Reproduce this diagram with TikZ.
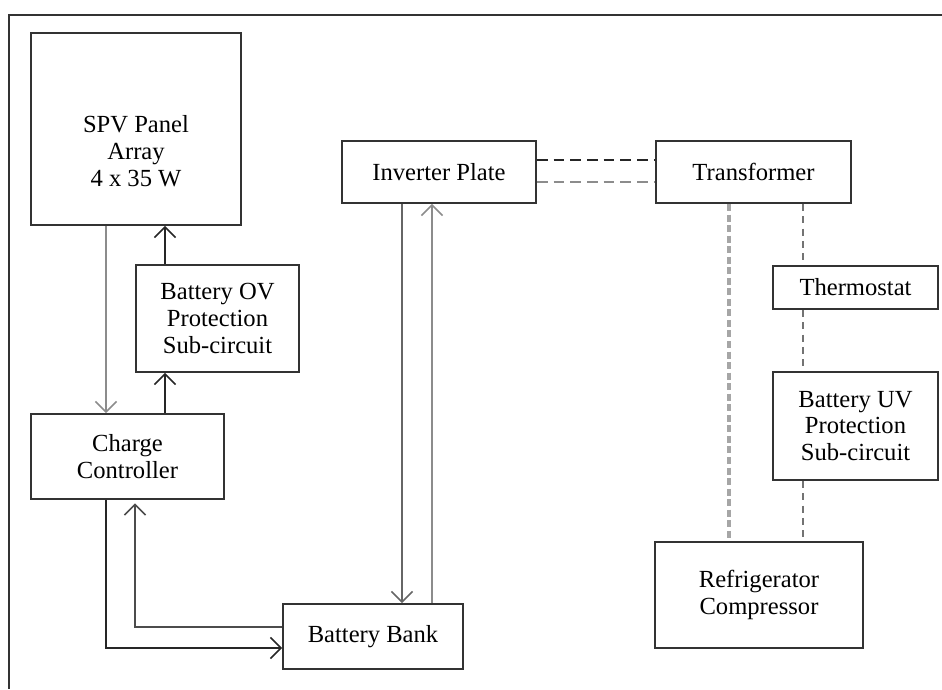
\documentclass[tikz,border=0pt]{standalone}
\usepackage{fontspec}
\setmainfont{Liberation Serif}
\usetikzlibrary{arrows.meta}

\tikzset{
  barb/.style={-{Straight Barb[length=6pt,width=12pt,line width=0.9pt]}}
}

\begin{document}
\begin{tikzpicture}[x=0.02cm, y=-0.02cm]
            \tikzstyle{block}=[draw=black!80,line width=1.1pt,align=center,inner sep=2pt,font=\fontsize{14}{15.3}\selectfont]
            \tikzstyle{wire}=[line width=0.9pt,black!85]
            \tikzstyle{greywire}=[line width=1pt,black!45]
            \tikzstyle{dotwire}=[line width=1pt,black!55,dash pattern=on 4pt off 3pt]
            \useasboundingbox (0,0) rectangle (942,689);
            % frame
            \draw[line width=1.1pt,black!80] (942,15) -- (9,15) -- (9,689);

            \node[block,minimum width=210*0.02cm,minimum height=192*0.02cm] (SPV) at (136,129) {};
            \node[align=center,font=\fontsize{14}{15.3}\selectfont] (SPV_t) at (136,151) {SPV Panel\\Array\\4 x 35 W};
            \node[block,minimum width=163*0.02cm,minimum height=107*0.02cm] (OV) at (217.5,318.5) {Battery OV\\Protection\\Sub-circuit};
            \node[block,minimum width=193*0.02cm,minimum height=85*0.02cm] (CC) at (127.5,456.5) {Charge\\Controller};
            \node[block,minimum width=180*0.02cm,minimum height=65*0.02cm] (BB) at (373,636.5) {Battery Bank};
            \node[block,minimum width=194*0.02cm,minimum height=62*0.02cm] (INV) at (439,172) {Inverter Plate};
            \node[block,minimum width=195*0.02cm,minimum height=62*0.02cm] (TR) at (753.5,172) {Transformer};
            \node[block,minimum width=165*0.02cm,minimum height=43*0.02cm] (TH) at (855.5,287.5) {Thermostat};
            \node[block,minimum width=165*0.02cm,minimum height=108*0.02cm] (UV) at (855.5,426) {Battery UV\\Protection\\Sub-circuit};
            \node[block,minimum width=208*0.02cm,minimum height=106*0.02cm] (RC) at (759,595) {Refrigerator\\Compressor};

            % columns of the connectors
            \coordinate (c_1) at (106,0);
            \coordinate (c_2) at (165,0);
            \coordinate (c_3) at (135,0);
            \coordinate (c_4) at (402,0);
            \coordinate (c_5) at (432,0);
            \coordinate (c_6) at (729,0);
            \coordinate (c_7) at (803,0);
            \coordinate (r_1) at (0,648);
            \coordinate (r_2) at (0,627);
            \coordinate (r_3) at (0,160);
            \coordinate (r_4) at (0,182);

            \draw[greywire,barb] (SPV.south -| c_1) -- (CC.north -| c_1);
            \draw[wire,barb] (CC.north -| c_2) -- (OV.south -| c_2);
            \draw[wire,barb] (OV.north -| c_2) -- (SPV.south -| c_2);
            \draw[wire,barb] (CC.south -| c_1) -- (c_1 |- r_1) -- (BB.west |- r_1);
            \draw[wire,black!70,barb] (BB.west |- r_2) -- (c_3 |- r_2) -- ([yshift=-2pt]CC.south -| c_3);
            \draw[greywire,black!60,barb] (INV.south -| c_4) -- (BB.north -| c_4);
            \draw[greywire,barb] (BB.north -| c_5) -- (INV.south -| c_5);

            \draw[wire,dash pattern=on 6pt off 3.5pt] (INV.east |- r_3) -- (TR.west |- r_3);
            \draw[greywire,dash pattern=on 6pt off 3.5pt] (INV.east |- r_4) -- (TR.west |- r_4);
            \draw[line width=2pt,black!35,dash pattern=on 4pt off 2pt] (TR.south -| c_6) -- (RC.north -| c_6);
            \draw[dotwire] (TR.south -| c_7) -- (TH.north -| c_7);
            \draw[dotwire] (TH.south -| c_7) -- (UV.north -| c_7);
            \draw[dotwire] (UV.south -| c_7) -- (RC.north -| c_7);
        \end{tikzpicture}
\end{document}
